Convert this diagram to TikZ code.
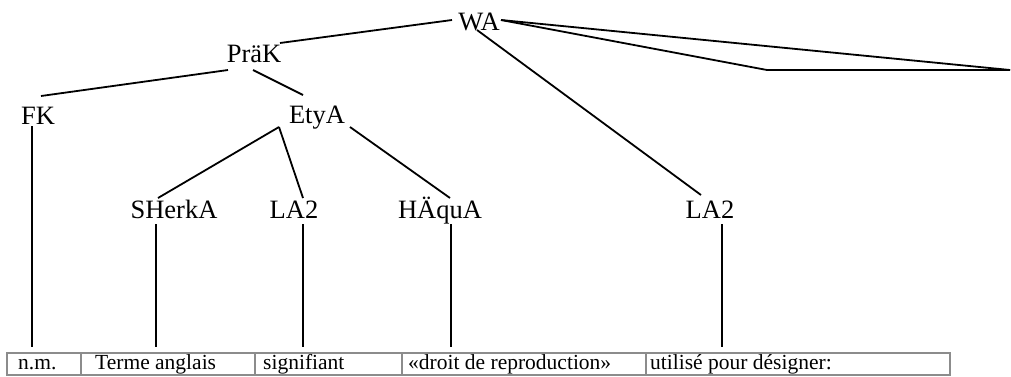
\documentclass[tikz,border=0pt]{standalone}
\usepackage{fontspec}
\setmainfont{Liberation Serif}
\newfontfamily\treefont{Liberation Serif}
\begin{document}
\begin{tikzpicture}[x=1pt,y=-1pt,
  lbl/.style={inner sep=0pt, anchor=base, font=\treefont\fontsize{26.5}{30}\selectfont},
  celltext/.style={inner sep=0pt, anchor=base west, font=\treefont\fontsize{21.5}{24}\selectfont},
  edge/.style={line width=1.8pt, draw=black},
  grid/.style={line width=1.2pt, draw=black!45}]
\useasboundingbox (0,0) rectangle (1011,376);

% tree labels
\node[lbl] (WA)    at (479,30)  {WA};
\node[lbl] (PraK)  at (254,62)  {PräK};
\node[lbl] (FK)    at (38,124)  {FK};
\node[lbl] (EtyA)  at (317,123) {EtyA};
\node[lbl] (SHerkA) at (174,218) {SHerkA};
\node[lbl] (LAa)   at (294,218) {LA2};
\node[lbl] (HAquA) at (440,218) {HÄquA};
\node[lbl] (LAb)   at (710,218) {LA2};

% attachment points of the branches
\coordinate (wa-l)    at (452,20);
\coordinate (wa-r)    at (501,20);
\coordinate (wa-b)    at (477,30);
\coordinate (prak-r)  at (280,43);
\coordinate (prak-l)  at (228,70);
\coordinate (prak-b)  at (253,70);
\coordinate (fk-t)    at (41,96);
\coordinate (ety-t)   at (303,95);
\coordinate (ety-l)   at (279,127);
\coordinate (ety-r)   at (350,127);
\coordinate (sherk-t) at (158,198);
\coordinate (laa-t)   at (303,198);
\coordinate (haq-t)   at (450,198);
\coordinate (lab-t)   at (701,195);
\coordinate (far)     at (1010,70);
\coordinate (bend)    at (767,70);

% branches
\draw[edge] (wa-l) -- (prak-r);
\draw[edge] (prak-l) -- (fk-t);
\draw[edge] (prak-b) -- (ety-t);
\draw[edge] (ety-l) -- (sherk-t);
\draw[edge] (ety-l) -- (laa-t);
\draw[edge] (ety-r) -- (haq-t);
\draw[edge] (wa-b) -- (lab-t);
\draw[edge] (wa-r) -- (far);
\draw[edge] (wa-r) -- (bend) -- (far);

% stems down to the gloss row
\coordinate (fk-b)    at (32,126);
\coordinate (sherk-b) at (156,224);
\coordinate (laa-b)   at (303,224);
\coordinate (haq-b)   at (451,224);
\coordinate (lab-b)   at (722,224);
\coordinate (g1) at (32,347);
\coordinate (g2) at (156,347);
\coordinate (g3) at (303,347);
\coordinate (g4) at (451,347);
\coordinate (g5) at (722,347);
\draw[edge] (fk-b) -- (g1);
\draw[edge] (sherk-b) -- (g2);
\draw[edge] (laa-b) -- (g3);
\draw[edge] (haq-b) -- (g4);
\draw[edge] (lab-b) -- (g5);

% gloss table
\draw[grid] (7,353) rectangle (950,375);
\foreach \x in {81,255,402,646} \draw[grid] (\x,353) -- (\x,375);
\node[celltext] (t1) at (18,369)  {n.m.};
\node[celltext] (t2) at (95,369)  {Terme anglais};
\node[celltext] (t3) at (263,369) {signifiant};
\node[celltext] (t4) at (408,369) {«droit de reproduction»};
\node[celltext] (t5) at (650,369) {utilisé pour désigner:};
\end{tikzpicture}
\end{document}
